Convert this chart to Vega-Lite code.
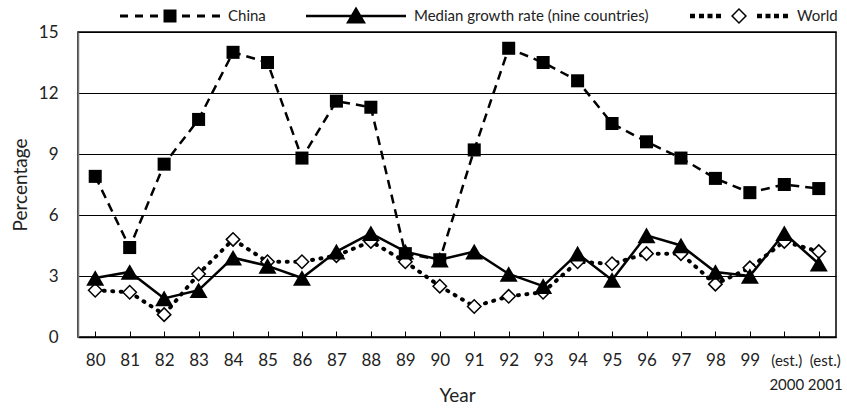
{
  "$schema": "https://vega.github.io/schema/vega-lite/v6.json",
  "width": 758,
  "height": 305,
  "autosize": {"type": "none"},
  "padding": {"left": 78, "top": 32, "right": 11, "bottom": 71},
  "config": {
    "font": "Lato",
    "view": {"stroke": "black", "strokeWidth": 1.5}
  },
  "data": {
    "values": [
      {"year": "80", "series": "China", "value": 7.9},
      {"year": "81", "series": "China", "value": 4.4},
      {"year": "82", "series": "China", "value": 8.5},
      {"year": "83", "series": "China", "value": 10.7},
      {"year": "84", "series": "China", "value": 14.0},
      {"year": "85", "series": "China", "value": 13.5},
      {"year": "86", "series": "China", "value": 8.8},
      {"year": "87", "series": "China", "value": 11.6},
      {"year": "88", "series": "China", "value": 11.3},
      {"year": "89", "series": "China", "value": 4.1},
      {"year": "90", "series": "China", "value": 3.8},
      {"year": "91", "series": "China", "value": 9.2},
      {"year": "92", "series": "China", "value": 14.2},
      {"year": "93", "series": "China", "value": 13.5},
      {"year": "94", "series": "China", "value": 12.6},
      {"year": "95", "series": "China", "value": 10.5},
      {"year": "96", "series": "China", "value": 9.6},
      {"year": "97", "series": "China", "value": 8.8},
      {"year": "98", "series": "China", "value": 7.8},
      {"year": "99", "series": "China", "value": 7.1},
      {"year": "2000", "series": "China", "value": 7.5},
      {"year": "2001", "series": "China", "value": 7.3},
      {"year": "80", "series": "Median growth rate (nine countries)", "value": 2.9},
      {"year": "81", "series": "Median growth rate (nine countries)", "value": 3.2},
      {"year": "82", "series": "Median growth rate (nine countries)", "value": 1.9},
      {"year": "83", "series": "Median growth rate (nine countries)", "value": 2.3},
      {"year": "84", "series": "Median growth rate (nine countries)", "value": 3.9},
      {"year": "85", "series": "Median growth rate (nine countries)", "value": 3.5},
      {"year": "86", "series": "Median growth rate (nine countries)", "value": 2.9},
      {"year": "87", "series": "Median growth rate (nine countries)", "value": 4.2},
      {"year": "88", "series": "Median growth rate (nine countries)", "value": 5.1},
      {"year": "89", "series": "Median growth rate (nine countries)", "value": 4.2},
      {"year": "90", "series": "Median growth rate (nine countries)", "value": 3.8},
      {"year": "91", "series": "Median growth rate (nine countries)", "value": 4.2},
      {"year": "92", "series": "Median growth rate (nine countries)", "value": 3.1},
      {"year": "93", "series": "Median growth rate (nine countries)", "value": 2.5},
      {"year": "94", "series": "Median growth rate (nine countries)", "value": 4.1},
      {"year": "95", "series": "Median growth rate (nine countries)", "value": 2.8},
      {"year": "96", "series": "Median growth rate (nine countries)", "value": 5.0},
      {"year": "97", "series": "Median growth rate (nine countries)", "value": 4.5},
      {"year": "98", "series": "Median growth rate (nine countries)", "value": 3.2},
      {"year": "99", "series": "Median growth rate (nine countries)", "value": 3.0},
      {"year": "2000", "series": "Median growth rate (nine countries)", "value": 5.1},
      {"year": "2001", "series": "Median growth rate (nine countries)", "value": 3.6},
      {"year": "80", "series": "World", "value": 2.3},
      {"year": "81", "series": "World", "value": 2.2},
      {"year": "82", "series": "World", "value": 1.1},
      {"year": "83", "series": "World", "value": 3.1},
      {"year": "84", "series": "World", "value": 4.8},
      {"year": "85", "series": "World", "value": 3.7},
      {"year": "86", "series": "World", "value": 3.7},
      {"year": "87", "series": "World", "value": 4.0},
      {"year": "88", "series": "World", "value": 4.7},
      {"year": "89", "series": "World", "value": 3.7},
      {"year": "90", "series": "World", "value": 2.5},
      {"year": "91", "series": "World", "value": 1.5},
      {"year": "92", "series": "World", "value": 2.0},
      {"year": "93", "series": "World", "value": 2.2},
      {"year": "94", "series": "World", "value": 3.7},
      {"year": "95", "series": "World", "value": 3.6},
      {"year": "96", "series": "World", "value": 4.1},
      {"year": "97", "series": "World", "value": 4.1},
      {"year": "98", "series": "World", "value": 2.6},
      {"year": "99", "series": "World", "value": 3.4},
      {"year": "2000", "series": "World", "value": 4.7},
      {"year": "2001", "series": "World", "value": 4.2}
    ]
  },
  "encoding": {
    "x": {
      "field": "year",
      "type": "ordinal",
      "scale": {"type": "point", "padding": 0.5, "domain": ["80","81","82","83","84","85","86","87","88","89","90","91","92","93","94","95","96","97","98","99","2000","2001"]},
      "axis": {
        "title": "Year",
        "labelAngle": 0,
        "labelExpr": "datum.value == '2000' || datum.value == '2001' ? ['(est.)', datum.value] : datum.value",
        "labelFontSize": {"condition": {"test": "datum.value == '2000' || datum.value == '2001'", "value": 15}, "value": 17},
        "labelColor": "#222",
        "labelBaseline": "alphabetic",
        "labelLineHeight": 24,
        "labelPadding": 34,
        "labelOffset": {"condition": [{"test": "datum.value == '2001'", "value": 6}, {"test": "datum.value == '2000'", "value": 2}], "value": 0},
        "tickSize": -6,
        "tickColor": "black",
        "tickWidth": 1,
        "domainColor": "black",
        "domainWidth": 1.5,
        "grid": false,
        "titleFontSize": 19,
        "titleFontWeight": "normal",
        "titleColor": "#222",
        "titleY": 58,
        "titleBaseline": "middle"
      }
    },
    "y": {
      "field": "value",
      "type": "quantitative",
      "scale": {"domain": [0, 15]},
      "axis": {
        "title": "Percentage",
        "values": [0, 3, 6, 9, 12, 15],
        "ticks": false,
        "labelPadding": 20,
        "labelFontSize": 17,
        "labelColor": "#222",
        "grid": true,
        "gridColor": "black",
        "gridWidth": 1,
        "gridOpacity": 1,
        "domainColor": "#777",
        "domainWidth": 1.5,
        "titleFontSize": 19,
        "titleFontWeight": "normal",
        "titleColor": "#222",
        "titlePadding": 8
      }
    }
  },
  "layer": [
    {
      "transform": [{"filter": "datum.series === 'China'"}],
      "mark": {"type": "line", "color": "black", "strokeWidth": 2.5, "strokeDash": [9, 6]}
    },
    {
      "transform": [{"filter": "datum.series === 'China'"}],
      "mark": {"type": "point", "shape": "square", "filled": true, "color": "black", "size": 170, "opacity": 1}
    },
    {
      "transform": [{"filter": "datum.series === 'World'"}],
      "mark": {"type": "line", "color": "black", "strokeWidth": 4, "strokeDash": [1, 7.5], "strokeCap": "round"}
    },
    {
      "transform": [{"filter": "datum.series === 'World'"}],
      "mark": {"type": "point", "shape": "diamond", "filled": true, "fill": "white", "stroke": "black", "strokeWidth": 1.5, "size": 180, "opacity": 1}
    },
    {
      "transform": [{"filter": "datum.series === 'Median growth rate (nine countries)'"}],
      "mark": {"type": "line", "color": "black", "strokeWidth": 2.5}
    },
    {
      "transform": [{"filter": "datum.series === 'Median growth rate (nine countries)'"}],
      "mark": {"type": "point", "shape": "triangle-up", "filled": true, "color": "black", "size": 324, "opacity": 1}
    },
    {
      "mark": {"type": "point", "filled": true, "color": "black", "opacity": 0},
      "encoding": {
        "shape": {
          "field": "series",
          "type": "nominal",
          "scale": {
            "domain": ["China", "Median growth rate (nine countries)", "World"],
            "range": [
              "M-1,-0.03H-0.84V0.03H-1Z M-0.7,-0.03H-0.54V0.03H-0.7Z M-0.4,-0.03H-0.24V0.03H-0.4Z M-0.13,-0.13H0.13V0.13H-0.13Z M0.24,-0.03H0.4V0.03H0.24Z M0.54,-0.03H0.7V0.03H0.54Z M0.84,-0.03H1V0.03H0.84Z",
              "M-1,-0.025H1V0.025H-1Z M0,-0.19L0.2,0.15H-0.2Z",
              "M-0.98,-0.045H-0.88V0.045H-0.98Z M-0.8,-0.045H-0.7V0.045H-0.8Z M-0.63,-0.045H-0.53V0.045H-0.63Z M-0.46,-0.045H-0.36V0.045H-0.46Z M0,-0.16L0.16,0L0,0.16L-0.16,0Z M0,-0.118L-0.118,0L0,0.118L0.118,0Z M0.36,-0.045H0.46V0.045H0.36Z M0.53,-0.045H0.63V0.045H0.53Z M0.7,-0.045H0.8V0.045H0.7Z M0.88,-0.045H0.98V0.045H0.88Z"
            ]
          },
          "legend": {
            "title": null,
            "orient": "none",
            "legendX": 42,
            "legendY": -66,
            "padding": 0,
            "direction": "horizontal",
            "symbolSize": 10000,
            "symbolOpacity": 1,
            "symbolFillColor": "black",
            "symbolStrokeColor": "black",
            "symbolStrokeWidth": 0,
            "labelOffset": 8,
            "columnPadding": 40,
            "labelFontSize": 15,
            "labelColor": "#222",
            "labelLimit": 400
          }
        }
      }
    }
  ]
}
